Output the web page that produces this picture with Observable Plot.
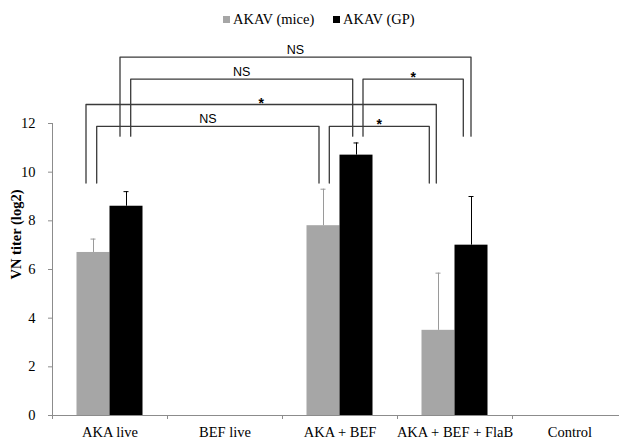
<!DOCTYPE html>
<html><head><meta charset="utf-8">
<script src="https://cdn.jsdelivr.net/npm/d3@7"></script>
<script src="https://cdn.jsdelivr.net/npm/@observablehq/plot@0.6"></script>
<style>
body{margin:0;background:#fff;width:619px;height:440px;overflow:hidden;}
#legend{height:38px;position:relative;font-family:"Liberation Serif","Times New Roman",serif;font-size:14.5px;color:#000;}
#legend .item{position:absolute;top:11px;white-space:nowrap;line-height:16px;}
#legend .sw{display:inline-block;width:7px;height:7px;margin-right:3px;vertical-align:1px;}
</style></head><body>
<div id="legend"></div>
<div id="chart"></div>
<script>
// ---- data ----
const categories = ["AKA live", "BEF live", "AKA + BEF", "AKA + BEF + FlaB", "Control"];
const seriesNames = ["AKAV (mice)", "AKAV (GP)"];
const seriesColors = ["#a6a6a6", "#000000"];
const miceValues = [6.7, null, 7.8, 3.5, null];
const miceErrors = [0.55, null, 1.5, 2.35, null];
const gpValues = [8.6, null, 10.7, 7.0, null];
const gpErrors = [0.6, null, 0.5, 2.0, null];
const yTicks = [0, 2, 4, 6, 8, 10, 12];
// significance comparisons
const compLabels = ["NS", "NS", "*", "*", "NS", "*"];
const compFromCat = [0, 0, 2, 0, 0, 2];
const compToCat = [3, 2, 3, 3, 2, 3];
const compSeries = [1, 1, 1, 0, 0, 0];
const compLevel = [14.73, 13.82, 13.82, 12.78, 11.88, 11.88];
const compLegEnd = [11.48, 11.48, 11.48, 9.55, 9.55, 9.55];

// ---- layout helpers ----
const PX = 115;            // px per category
const barW = 33 / PX;      // bar width in category units
const fromNudge = [-6.5, 4.2, 6.5, -7.5, 3.2, 5.8];
const toNudge = [-0.5, -3.8, -8.2, -2.2, -4.5, -9.2];

const bars = [];
categories.forEach((c, i) => {
  if (miceValues[i] != null) bars.push({cat: i, s: 0, v: miceValues[i], e: miceErrors[i]});
  if (gpValues[i] != null) bars.push({cat: i, s: 1, v: gpValues[i], e: gpErrors[i]});
});
const barCenter = (cat, s) => cat + 0.5 + (s === 0 ? -barW / 2 : barW / 2);

const brackets = compLabels.map((lab, k) => {
  const xa = barCenter(compFromCat[k], compSeries[k]) + fromNudge[k] / PX;
  const xb = barCenter(compToCat[k], compSeries[k]) + toNudge[k] / PX;
  return {k, lab, xa, xb, level: compLevel[k], end: compLegEnd[k]};
});
const bracketPts = brackets.flatMap(b => [
  {k: b.k, x: b.xa, y: b.end}, {k: b.k, x: b.xa, y: b.level},
  {k: b.k, x: b.xb, y: b.level}, {k: b.k, x: b.xb, y: b.end}
]);

// legend
const legend = document.getElementById("legend");
const legendX = [223, 333];
seriesNames.forEach((n, i) => {
  const d = document.createElement("div");
  d.className = "item";
  d.style.left = legendX[i] + "px";
  d.innerHTML = `<span class="sw" style="background:${seriesColors[i]}"></span>${n}`;
  legend.appendChild(d);
});

const serif = "'Liberation Serif','Times New Roman',serif";
const sans = "'Liberation Sans',Arial,sans-serif";
const chart = Plot.plot({
  width: 619, height: 402,
  marginLeft: 52, marginRight: 0, marginTop: 85, marginBottom: 25,
  style: {fontFamily: serif, fontSize: "14.5px", color: "#000", background: "#fff", overflow: "visible"},
  x: {type: "linear", domain: [0, 5], range: [52, 52 + 5 * PX], axis: null},
  y: {domain: [0, 12], axis: null},
  marks: [
    // bars
    Plot.rectY(bars, {
      x1: d => d.cat + 0.5 + (d.s === 0 ? -barW : 0),
      x2: d => d.cat + 0.5 + (d.s === 0 ? 0 : barW),
      y1: 0, y2: "v",
      fill: d => seriesColors[d.s]
    }),
    // error bars
    Plot.ruleX(bars, {x: d => barCenter(d.cat, d.s), y1: "v", y2: d => d.v + d.e, stroke: d => d.s === 0 ? "#9a9a9a" : "#000", strokeWidth: 1}),
    Plot.ruleY(bars, {y: d => d.v + d.e, x1: d => barCenter(d.cat, d.s) - 2.5 / PX, x2: d => barCenter(d.cat, d.s) + 2.5 / PX, stroke: d => d.s === 0 ? "#9a9a9a" : "#000", strokeWidth: 1}),
    // axes lines
    Plot.ruleX([0], {y1: 0, y2: 12, stroke: "#8c8c8c"}),
    Plot.ruleY([0], {x1: 0, x2: 5, stroke: "#8c8c8c"}),
    Plot.axisY({ticks: yTicks, tickSize: 4, tickPadding: 13, stroke: "#8c8c8c", label: null, fontSize: 14.5, fontFamily: serif, fill: "#000"}),
    Plot.axisX({ticks: d3.range(0, 6), tickSize: 4, tickFormat: () => "", stroke: "#8c8c8c", label: null}),
    Plot.text(categories, {x: (d, i) => i + 0.5, y: 0, text: d => d, dy: 17, fontSize: 14.5, fontFamily: serif, fill: "#000"}),
    Plot.text(["VN titer (log2)"], {frameAnchor: "top-left", textAnchor: "middle", lineAnchor: "middle", dx: -36, dy: 111, rotate: -90, fontWeight: "bold", fontSize: 14.5, fontFamily: serif, fill: "#000"}),
    // brackets
    Plot.line(bracketPts, {x: "x", y: "y", z: "k", stroke: "#3a3a3a", strokeWidth: 1.3, curve: "linear"}),
    Plot.text(brackets.filter(b => b.lab !== "*"), {x: b => (b.xa + b.xb) / 2, y: "level", text: "lab", dy: -7, fontFamily: sans, fontSize: 12.5, fill: "#000"}),
    Plot.text(brackets.filter(b => b.lab === "*"), {x: b => (b.xa + b.xb) / 2, y: "level", text: "lab", lineAnchor: "bottom", dy: 3, fontFamily: sans, fontSize: 14, fontWeight: "bold", fill: "#000"})
  ]
});
document.getElementById("chart").appendChild(chart);
</script>
</body></html>
